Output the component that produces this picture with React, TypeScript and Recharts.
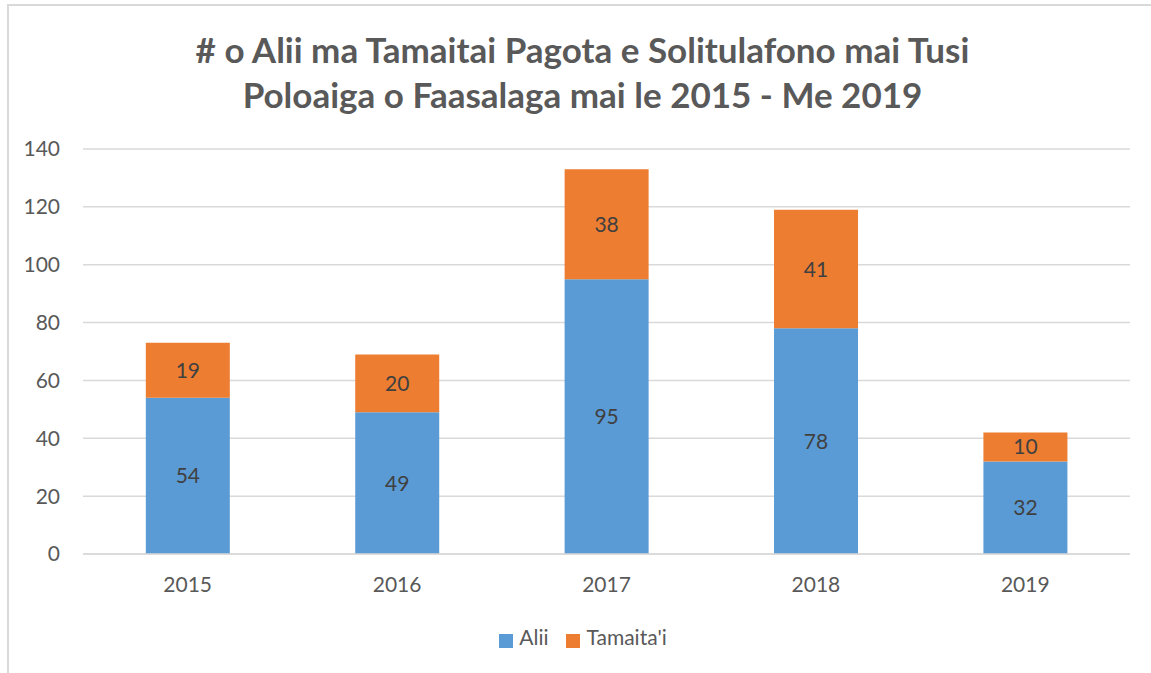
import { BarChart, Bar, XAxis, YAxis, CartesianGrid, Legend, LabelList } from 'recharts';

const years = ['2015', '2016', '2017', '2018', '2019'];
const alii = [54, 49, 95, 78, 32];
const tamaitai = [19, 20, 38, 41, 10];
const yTicks = [0, 20, 40, 60, 80, 100, 120, 140];

const chartData = years.map((year, i) => ({
  year,
  alii: alii[i],
  tamaitai: tamaitai[i],
}));

const font = 'Lato, "Open Sans", sans-serif';

const App = () => {
  return (
    <div style={{ position: 'absolute', left: 0, top: 0, width: 1151, height: 673, background: '#fff', overflow: 'hidden', fontFamily: font }}>
      <div style={{ position: 'absolute', left: 7, top: 4, width: 1200, height: 700, border: '2px solid #d9d9d9' }} />
      <div
        style={{
          position: 'absolute',
          left: 0,
          top: 27,
          width: 1165,
          textAlign: 'center',
          fontSize: 35,
          fontWeight: 'bold',
          color: '#595959',
          lineHeight: '45px',
        }}
      >
        # o Alii ma Tamaitai Pagota e Solitulafono mai Tusi
        <br />
        Poloaiga o Faasalaga mai le 2015 - Me 2019
      </div>
      <div style={{ position: 'absolute', left: 0, top: 0 }}>
        <BarChart
          width={1151}
          height={673}
          data={chartData}
          margin={{ top: 149, right: 21, bottom: 20, left: 0 }}
          barCategoryGap="30%"
        >
          <CartesianGrid vertical={false} stroke="#d9d9d9" strokeWidth={1.5} />
          <XAxis
            dataKey="year"
            tickLine={false}
            axisLine={{ stroke: '#d9d9d9', strokeWidth: 1.5 }}
            tick={{ fill: '#595959', fontSize: 21, fontFamily: font }}
            tickMargin={17}
            height={50}
          />
          <YAxis
            domain={[0, 140]}
            ticks={yTicks}
            tickLine={false}
            axisLine={false}
            width={83}
            tick={{ fill: '#595959', fontSize: 21, fontFamily: font }}
            tickMargin={17}
          />
          <Legend
            verticalAlign="bottom"
            iconType="square"
            iconSize={14}
            height={49}
            wrapperStyle={{ bottom: 0, left: 27 }}
            formatter={(value) => (
              <span style={{ color: '#595959', fontSize: 21, fontFamily: font, marginLeft: 2, marginRight: 8 }}>{value}</span>
            )}
          />
          <Bar dataKey="alii" name="Alii" stackId="a" fill="#5b9bd5" isAnimationActive={false}>
            <LabelList dataKey="alii" position="center" fill="#404040" fontSize={21} fontFamily={font} />
          </Bar>
          <Bar dataKey="tamaitai" name="Tamaita'i" stackId="a" fill="#ed7d31" isAnimationActive={false}>
            <LabelList dataKey="tamaitai" position="center" fill="#404040" fontSize={21} fontFamily={font} />
          </Bar>
        </BarChart>
      </div>
    </div>
  );
};

export default App;
